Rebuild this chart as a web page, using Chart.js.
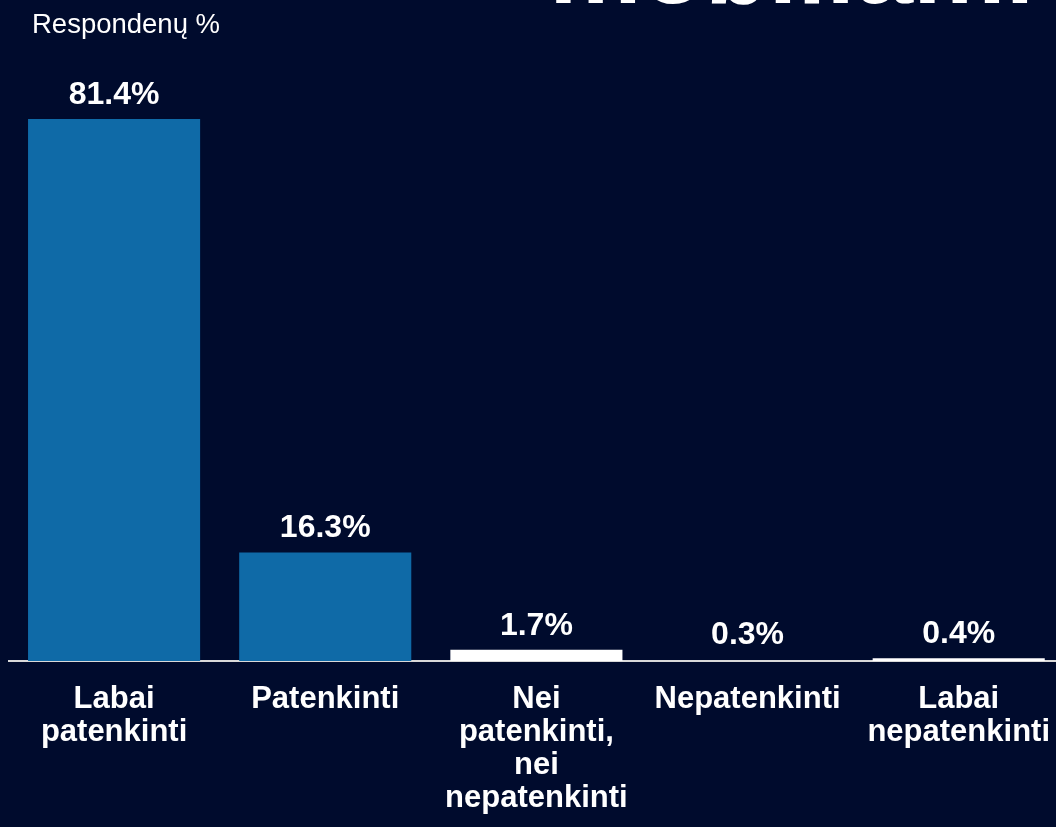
<!DOCTYPE html>
<html>
<head>
<meta charset="utf-8">
<script src="https://cdn.jsdelivr.net/npm/chart.js@4/dist/chart.umd.min.js"></script>
<style>
  html, body { margin: 0; padding: 0; background: #000B2D; overflow: hidden; width: 1056px; height: 827px; }
  #wrap { position: absolute; left: 0; top: 0; width: 1072px; height: 827px; }
  #c { display: block; }
</style>
</head>
<body>
<div id="wrap"><canvas id="c" width="1072" height="827" style="width:1072px;height:827px"></canvas></div>
<script>
const categories = [
  ["Labai", "patenkinti"],
  ["Patenkinti"],
  ["Nei", "patenkinti,", "nei", "nepatenkinti"],
  ["Nepatenkinti"],
  ["Labai", "nepatenkinti"]
];
const values = [81.4, 16.3, 1.7, 0.3, 0.4];
const valueLabels = ["81.4%", "16.3%", "1.7%", "0.3%", "0.4%"];
const barColors = ["#0F6AA7", "#0F6AA7", "#FFFFFF", "rgba(0,0,0,0)", "#FFFFFF"];
const titleText = "mobiliami";
const unitText = "Respondenų %";

const FONT = "'Liberation Sans', Arial, sans-serif";

const textPlugin = {
  id: 'textPlugin',
  afterDatasetsDraw(chart) {
    const ctx = chart.ctx;
    const meta = chart.getDatasetMeta(0);
    ctx.save();
    ctx.fillStyle = '#FFFFFF';
    ctx.textAlign = 'center';
    ctx.textBaseline = 'middle';
    ctx.font = 'bold 32px ' + FONT;
    meta.data.forEach((bar, i) => {
      ctx.fillText(valueLabels[i], bar.x, bar.y - 24);
    });
    ctx.textAlign = 'left';
    ctx.textBaseline = 'alphabetic';
    ctx.font = '27.5px ' + FONT;
    ctx.fillText(unitText, 32, 33);
    ctx.font = 'bold 104px ' + FONT;
    ctx.fillText(titleText, 549, 3);
    ctx.restore();
  }
};

new Chart(document.getElementById('c'), {
  type: 'bar',
  data: {
    labels: categories,
    datasets: [{
      data: values,
      backgroundColor: barColors,
      borderWidth: 0,
      categoryPercentage: 1,
      barPercentage: 0.815
    }]
  },
  options: {
    responsive: false,
    animation: false,
    layout: { padding: { left: 8.5, right: 0, top: 61.6, bottom: 0 } },
    plugins: { legend: { display: false }, tooltip: { enabled: false }, title: { display: false } },
    scales: {
      y: { display: false, min: 0, max: 90 },
      x: {
        z: 1,
        afterFit(s) { s.height = 166; },
        grid: { display: false, drawTicks: false },
        border: { display: true, color: '#D9D9D9', width: 2 },
        ticks: {
          color: '#FFFFFF',
          padding: 22,
          maxRotation: 0,
          autoSkip: false,
          font: { family: FONT, size: 31, weight: 'bold', lineHeight: '33px' }
        }
      }
    }
  },
  plugins: [textPlugin]
});
</script>
</body>
</html>
